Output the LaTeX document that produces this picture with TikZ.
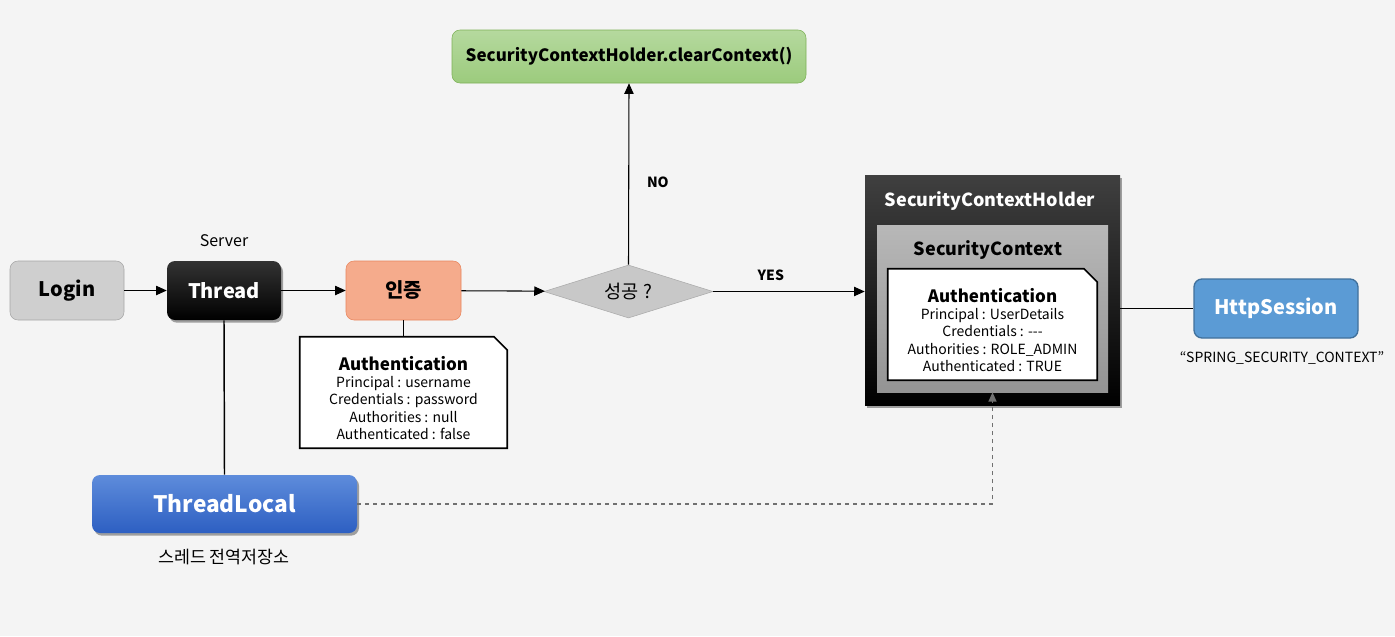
\documentclass[tikz,border=0pt]{standalone}
\usepackage{fontspec}
\setmainfont{Noto Sans CJK KR}
\usetikzlibrary{shapes.geometric,shadows,arrows.meta}
\definecolor{bgc}{HTML}{F4F4F4}
\definecolor{loginc}{HTML}{CFCFCF}
\definecolor{loginb}{HTML}{A6A6A6}
\definecolor{authc}{HTML}{F5AB8C}
\definecolor{authb}{HTML}{E8855C}
\definecolor{diac}{HTML}{C8C8C8}
\definecolor{greent}{HTML}{B5D99E}
\definecolor{greenb}{HTML}{9CCB7D}
\definecolor{greenl}{HTML}{7DB157}
\definecolor{httpc}{HTML}{5B9BD5}
\definecolor{httpb}{HTML}{41719C}
\definecolor{tlt}{HTML}{5E8CDB}
\definecolor{tlb}{HTML}{2D5FC2}
\definecolor{dashc}{HTML}{707070}
\tikzset{
  box/.style={rounded corners=6pt, minimum width=85.5pt, minimum height=44.25pt, font=\bfseries\fontsize{15}{18}\selectfont, inner sep=0pt},
  shad/.style={drop shadow={shadow xshift=1.5pt, shadow yshift=-2pt, opacity=0.35, fill=black}},
  arr/.style={-{Triangle[length=8pt,width=7pt]}, line width=0.8pt},
  plain/.style={line width=1.1pt},
  lbl/.style={font=\bfseries\fontsize{10.5}{12}\selectfont},
  authtxt/.style={align=center, font=\fontsize{10.5}{13}\selectfont, inner sep=0pt},
  snip/.style={draw=black, line width=1.2pt, fill=white},
}
\begin{document}
\begin{tikzpicture}[x=0.75pt,y=-0.75pt]
\fill[bgc] (0,0) rectangle (1395,636);
\useasboundingbox (0,0) rectangle (1395,636);

% main row
\node[box, draw=loginb, fill=loginc] (login) at (67,290.5) {Login};
\node[box, shad, top color=black!80, bottom color=black, text=white] (thread) at (224,290.5) {Thread};
\node[font=\fontsize{12}{14}\selectfont] (server) at (224,241) {Server};
\node[box, draw=authb, fill=authc, minimum width=86.25pt] (auth) at (403.5,290.5) {인증};
\node[diamond, fill=diac, draw=diac!85!black, line width=0.4pt, minimum width=126.75pt, minimum height=39.75pt, inner sep=0pt, aspect=3.2, font=\fontsize{14}{16}\selectfont] (dec) at (628.5,291.5) {성공 ?};
\node[box, draw=greenl, top color=greent, bottom color=greenb, minimum width=265.5pt, minimum height=39.75pt, font=\bfseries\fontsize{12.75}{15}\selectfont] (clear) at (629,56.5) {SecurityContextHolder.clearContext()};

% SecurityContextHolder
\node[shad, top color=black!75, bottom color=black, minimum width=191.25pt, minimum height=172.5pt, inner sep=0pt] (sch) at (992.5,290) {};
\node[text=white, font=\bfseries\fontsize{13.5}{16}\selectfont] (schtitle) at (990,201) {SecurityContextHolder};
\node[top color=black!28, bottom color=black!42, minimum width=173.25pt, minimum height=125.25pt, inner sep=0pt] (sc) at (992.5,308.5) {};
\node[font=\bfseries\fontsize{13.5}{16}\selectfont] (sctitle) at (988,250) {SecurityContext};
\node[minimum width=156.75pt, minimum height=83.25pt, inner sep=0pt] (auth2) at (992.5,324.5) {};
\draw[snip] (auth2.south west) -- (auth2.north west) -- ([xshift=-10pt]auth2.north east) -- ([yshift=-10pt]auth2.north east) -- (auth2.south east) -- cycle;
\node[authtxt] (auth2txt) at (992.5,330) {{\bfseries\fontsize{12.75}{15}\selectfont Authentication}\\Principal : UserDetails\\Credentials : -{}-{}-\\Authorities : ROLE\_ADMIN\\Authenticated : TRUE};

% HttpSession
\node[box, draw=httpb, line width=1pt, fill=httpc, text=white, minimum width=123pt] (http) at (1276,308.5) {HttpSession};
\node[font=\fontsize{10.5}{12}\selectfont] (spring) at (1282,358) {“SPRING\_SECURITY\_CONTEXT”};

% Authentication (unauthenticated)
\node[minimum width=155.25pt, minimum height=83.25pt, inner sep=0pt] (auth1) at (403.5,392.5) {};
\draw[snip] (auth1.south west) -- (auth1.north west) -- ([xshift=-10pt]auth1.north east) -- ([yshift=-10pt]auth1.north east) -- (auth1.south east) -- cycle;
\node[authtxt] (auth1txt) at (403.5,398) {{\bfseries\fontsize{12.75}{15}\selectfont Authentication}\\Principal : username\\Credentials : password\\Authorities : null\\Authenticated : false};

% ThreadLocal
\node[box, shad, top color=tlt, bottom color=tlb, text=white, minimum width=198.75pt, minimum height=43.5pt, font=\bfseries\fontsize{17}{20}\selectfont] (tl) at (224.5,504) {ThreadLocal};
\node[font=\fontsize{13}{15}\selectfont] (tlcap) at (224,557) {스레드 전역저장소};

% connectors
\draw[arr] (login) -- (thread);
\draw[arr] (thread) -- (auth);
\draw[arr] (auth) -- (dec);
\draw[arr] (dec.north) -- (clear.south) node[lbl, pos=0.455, right=10pt] (nolbl) {NO};
\draw[arr] (dec.east) -- (dec.east -| sch.west) node[lbl, pos=0.38, above=4pt] (yeslbl) {YES};
\draw[plain] (thread.south) -- (tl.north);
\draw[plain] (auth.south) -- (auth1.north);
\draw[plain] (http.west) -- (http.west -| sch.east);
\draw[dashc, dashed, line width=1pt, -{Triangle[length=7pt,width=6pt]}] (tl.east) -| (sc.south);
\end{tikzpicture}
\end{document}
